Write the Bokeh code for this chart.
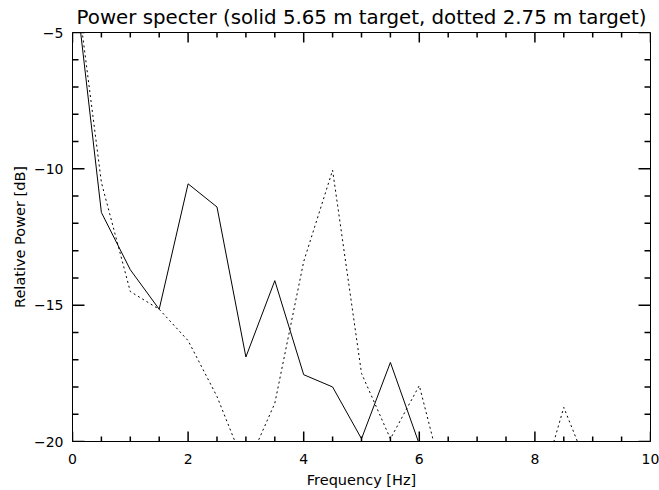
import numpy as np
from bokeh.plotting import figure
from bokeh.models import SingleIntervalTicker
from bokeh.embed import file_html
from bokeh.resources import INLINE

# Data
freq = [0.0, 0.5, 1.0, 1.5, 2.0, 2.5, 3.0, 3.5, 4.0, 4.5, 5.0,
        5.5, 6.0, 6.5, 7.0, 7.5, 8.0, 8.5, 9.0, 9.5, 10.0]
solid_565 = [-2.4, -11.6, -13.7, -15.15, -10.55, -11.4, -16.9, -14.1, -17.55, -18.0, -19.9,
             -17.1, -20.1, -22.5, -23.5, -24.0, -23.0, -24.5, -25.0, -24.0, -25.5]
dotted_275 = [-2.2, -10.5, -14.5, -15.15, -16.3, -18.35, -21.0, -18.6, -13.4, -10.05, -17.5,
              -19.9, -17.95, -22.1, -24.0, -23.5, -22.4, -18.75, -21.4, -23.0, -24.0]

x_lo, x_hi = 0, 10
y_lo, y_hi = -20, -5
x_ticks = [0, 2, 4, 6, 8, 10]
x_tick_labels = ["0", "2", "4", "6", "8", "10"]
y_ticks = [-20, -15, -10, -5]
y_tick_labels = ["\u221220", "\u221215", "\u221210", "\u22125"]
x_minor_step = 0.5
y_minor_step = 1

title_text = "Power specter (solid 5.65 m target, dotted 2.75 m target)"
FONT = "DejaVu Sans"

W, H = 659, 490
BL, BR, BT, BB = 72, 9, 31, 49

p = figure(width=W, height=H, x_range=(x_lo, x_hi), y_range=(y_lo, y_hi),
           output_backend="svg", toolbar_location=None,
           min_border_left=BL, min_border_right=BR, min_border_top=BT, min_border_bottom=BB)

p.title.text = title_text
p.title.align = "center"
p.title.text_font = FONT
p.title.text_font_size = "19.8px"
p.title.text_font_style = "normal"
p.title.text_color = "black"
p.title.standoff = 7

p.grid.visible = False
p.outline_line_color = "black"
p.outline_line_width = 1
p.background_fill_color = "white"
p.border_fill_color = "white"

def style(ax):
    ax.major_tick_in = 0
    ax.major_tick_out = 0
    ax.minor_tick_in = 0
    ax.minor_tick_out = 0
    ax.minor_tick_line_color = None
    ax.major_tick_line_color = None
    ax.axis_line_color = "black"
    ax.major_label_text_font = FONT
    ax.major_label_text_font_size = "14px"
    ax.major_label_text_color = "black"
    ax.axis_label_text_font = FONT
    ax.axis_label_text_font_size = "14.5px"
    ax.axis_label_text_font_style = "normal"
    ax.axis_label_text_color = "black"

xa = p.xaxis[0]
xa.ticker = SingleIntervalTicker(interval=2, num_minor_ticks=4)
style(xa)
xa.major_label_overrides = {t: l for t, l in zip(x_ticks, x_tick_labels)}
xa.axis_label = "Frequency [Hz]"
xa.major_label_standoff = 12
xa.axis_label_standoff = 5

ya = p.yaxis[0]
ya.ticker = SingleIntervalTicker(interval=5, num_minor_ticks=5)
style(ya)
ya.major_label_overrides = {t: l for t, l in zip(y_ticks, y_tick_labels)}
ya.axis_label = "Relative Power [dB]"
ya.major_label_standoff = 9
ya.axis_label_standoff = 3

# inward ticks on all four sides (IDL style); pixel lengths converted to data units
frame_w = W - BL - BR
frame_h = H - BT - BB
px_x = (x_hi - x_lo) / frame_w
px_y = (y_hi - y_lo) / frame_h

x_minor = [float(v) for v in np.arange(x_lo, x_hi + 1e-9, x_minor_step) if v not in x_ticks]
y_minor = [float(v) for v in np.arange(y_lo, y_hi + 1e-9, y_minor_step) if v not in y_ticks]

TICK_W = 1.5

def ticks_x(xs, length_px):
    d = length_px * px_y
    p.segment(x0=xs, y0=[y_lo] * len(xs), x1=xs, y1=[y_lo + d] * len(xs),
              line_color="black", line_width=TICK_W)
    p.segment(x0=xs, y0=[y_hi] * len(xs), x1=xs, y1=[y_hi - d] * len(xs),
              line_color="black", line_width=TICK_W)

def ticks_y(ys, length_px):
    d = length_px * px_x
    p.segment(x0=[x_lo] * len(ys), y0=ys, x1=[x_lo + d] * len(ys), y1=ys,
              line_color="black", line_width=TICK_W)
    p.segment(x0=[x_hi] * len(ys), y0=ys, x1=[x_hi - d] * len(ys), y1=ys,
              line_color="black", line_width=TICK_W)

ticks_x(x_ticks, 10)
ticks_x(x_minor, 5)
ticks_y(y_ticks, 12)
ticks_y(y_minor, 6)

p.line(freq, solid_565, line_color="black", line_width=1)
p.line(freq, dotted_275, line_color="black", line_width=1, line_dash="2 3")

open("out.html", "w").write(file_html(p, INLINE))
